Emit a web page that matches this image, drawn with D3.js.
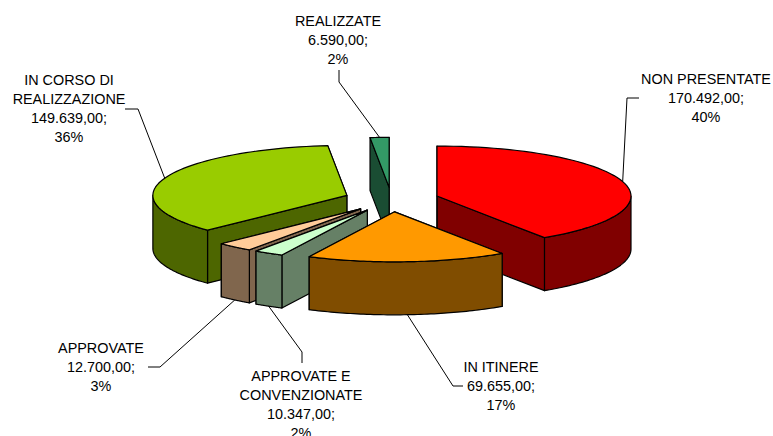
<!DOCTYPE html>
<html>
<head>
<meta charset="utf-8">
<script src="https://cdn.jsdelivr.net/npm/d3@7"></script>
<style>
  html, body { margin: 0; padding: 0; background: #fff; overflow: hidden; }
  text { font-family: "Liberation Sans", Arial, sans-serif; font-size: 14.4px; fill: #000; }
</style>
</head>
<body>
<div class="canvas"></div>
<script>
// data
const categories = ['NON PRESENTATE', 'IN ITINERE', 'APPROVATE E CONVENZIONATE', 'APPROVATE', 'IN CORSO DI REALIZZAZIONE', 'REALIZZATE'];
const values = [170492, 69655, 10347, 12700, 149639, 6590];
const valueLabels = ['170.492,00;', '69.655,00;', '10.347,00;', '12.700,00;', '149.639,00;', '6.590,00;'];
const percentLabels = ['40%', '17%', '2%', '3%', '36%', '2%'];
const topColors = ['#ff0000', '#ff9900', '#ccffcc', '#ffcc99', '#99cc00', '#339966'];
const sideColors = ['#800000', '#804d00', '#668066', '#80664d', '#4d6600', '#1a4d33'];

// label lines and where they sit
const labelLines = [
  ['NON PRESENTATE'], ['IN ITINERE'], ['APPROVATE E', 'CONVENZIONATE'],
  ['APPROVATE'], ['IN CORSO DI', 'REALIZZAZIONE'], ['REALIZZATE']
];
const labelPos = [[706, 84], [501, 372], [301, 381], [101, 353], [69, 85], [338, 26]];
const elbows = [[[627, 98], [639, 98]], [[453, 386], [463, 386]], [[302, 352], [302, 363]], [[160, 367], [148, 367]], [[138, 109], [125, 109]], [[339, 82], [339, 70]]];

// pie geometry
const width = 773, height = 436;
const cx = 391.5, cy = 199.6;
const rx = 194, ry = 50, depth = 53, explode = 0.245;
const lineStep = 19;

const svg = d3.select('.canvas')
    .append('svg')
        .attr('width', width)
        .attr('height', height)
        .style('display', 'block');

const pie = d3.pie().sort(null);
const arcs = pie(values);

// project an angle (0 = 12 o'clock, clockwise) onto the tilted ellipse
const project = (c, a, r = 1) => [c[0] + rx * r * Math.sin(a), c[1] - ry * r * Math.cos(a)];
const drop = p => [p[0], p[1] + depth];

const arcPoints = (c, a0, a1) => d3.range(0, 61).map(i => project(c, a0 + (a1 - a0) * i / 60));

const line = d3.line();
const face = (g, pts, fill) => g.append('path')
    .attr('d', line(pts) + 'Z')
    .attr('fill', fill)
    .attr('stroke', '#000')
    .attr('stroke-width', 1.2)
    .attr('stroke-linejoin', 'round');

// each slice gets its own exploded centre
arcs.forEach(d => {
    d.mid = (d.startAngle + d.endAngle) / 2;
    d.c = project([cx, cy], d.mid, explode);
});

// back to front
const drawOrder = [5, 4, 0, 3, 2, 1];

drawOrder.forEach(i => {
    const d = arcs[i];
    const g = svg.append('g').attr('class', 'slice');
    const a = project(d.c, d.startAngle);
    const b = project(d.c, d.endAngle);

    // radial walls
    face(g, [d.c, b, drop(b), drop(d.c)], sideColors[i]);
    face(g, [d.c, a, drop(a), drop(d.c)], sideColors[i]);

    // outer wall, only the part facing the viewer
    const from = Math.max(d.startAngle, Math.PI / 2);
    const to = Math.min(d.endAngle, Math.PI * 1.5);
    if (to > from) {
        const rim = arcPoints(d.c, from, to);
        face(g, rim.concat(rim.slice().reverse().map(drop)), sideColors[i]);
    }

    // top
    face(g, [d.c].concat(arcPoints(d.c, d.startAngle, d.endAngle)), topColors[i]);
});

// leader lines start on the rim at the middle of the slice
arcs.forEach((d, i) => {
    let start = project(d.c, d.mid);
    if (Math.cos(d.mid) < 0) start = drop(start);
    svg.append('path')
        .attr('d', line([start].concat(elbows[i])))
        .attr('fill', 'none')
        .attr('stroke', '#000')
        .attr('stroke-width', 1);
});

// labels
categories.forEach((name, i) => {
    const rows = labelLines[i].concat([valueLabels[i], percentLabels[i]]);
    svg.append('text')
        .attr('text-anchor', 'middle')
        .selectAll('tspan')
        .data(rows)
        .join('tspan')
            .attr('x', labelPos[i][0])
            .attr('y', (r, k) => labelPos[i][1] + k * lineStep)
            .text(r => r);
});
</script>
</body>
</html>
